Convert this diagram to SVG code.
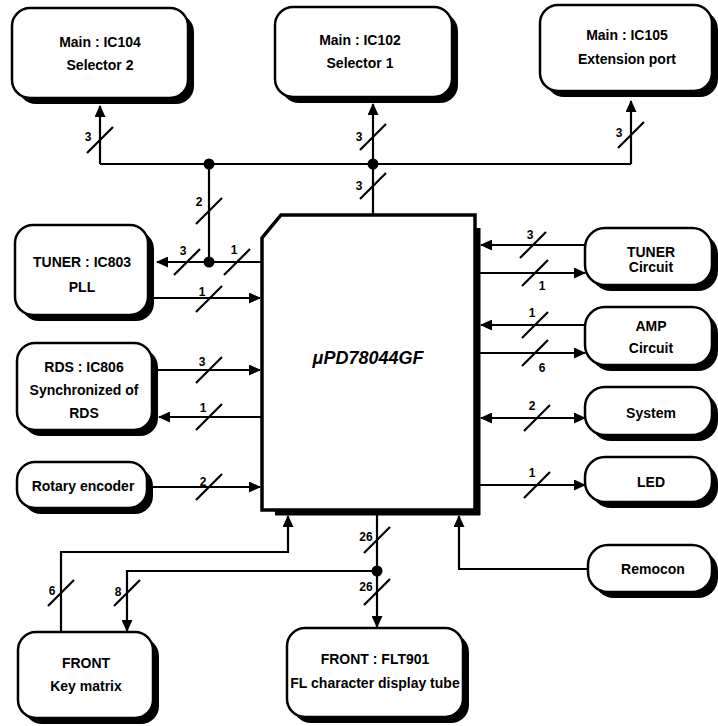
<svg xmlns="http://www.w3.org/2000/svg" width="718" height="726" viewBox="0 0 718 726">
<style>
.box{fill:#fff;stroke:#000;stroke-width:2.5}
.sh{fill:#000}
.t{font-family:"Liberation Sans",Arial,sans-serif;font-weight:bold;font-size:14px;text-anchor:middle;fill:#000}
.n{font-family:"Liberation Sans",Arial,sans-serif;font-weight:bold;font-size:12px;text-anchor:middle;fill:#000}
.c{fill:none;stroke:#000;stroke-width:2.2}
.a{marker-end:url(#ah)}
.s{stroke:#000;stroke-width:2.2}
</style>
<defs>
<marker id="ah" markerUnits="userSpaceOnUse" markerWidth="12" markerHeight="11" refX="11" refY="5.5" orient="auto-start-reverse">
<path d="M0,0 L12,5.5 L0,11 Z" fill="#000"/>
</marker>
</defs>
<rect width="718" height="726" fill="#fff"/>

<g id="chip">
<rect x="475" y="228" width="5.5" height="287" class="sh"/>
<rect x="275" y="510" width="205" height="5.5" class="sh"/>
<path d="M281,215 H475 V510 H262 V238 Z" fill="#fff" stroke="#000" stroke-width="3.5"/>
<text x="368" y="364" class="t" style="font-size:18px;font-style:italic">μPD78044GF</text>
</g>

<g id="ic104">
<rect x="18" y="14" width="176" height="90" rx="18" class="sh"/>
<rect x="12" y="8" width="176" height="90" rx="18" class="box"/>
<text x="100" y="47" class="t">Main : IC104</text>
<text x="100" y="70" class="t">Selector 2</text>
</g>
<g id="ic102">
<rect x="281" y="13" width="177" height="90" rx="18" class="sh"/>
<rect x="275" y="7" width="177" height="90" rx="18" class="box"/>
<text x="360" y="45" class="t">Main : IC102</text>
<text x="360" y="68" class="t">Selector 1</text>
</g>
<g id="ic105">
<rect x="546" y="11" width="172" height="86" rx="18" class="sh"/>
<rect x="540" y="5" width="172" height="86" rx="18" class="box"/>
<text x="627" y="40" class="t">Main : IC105</text>
<text x="627" y="64" class="t">Extension port</text>
</g>

<g id="tuner-ic803">
<rect x="21" y="231" width="133" height="90" rx="18" class="sh"/>
<rect x="15" y="225" width="133" height="90" rx="18" class="box"/>
<text x="82" y="267" class="t">TUNER : IC803</text>
<text x="82" y="292" class="t">PLL</text>
</g>
<g id="rds">
<rect x="23" y="349" width="135" height="87" rx="18" class="sh"/>
<rect x="17" y="343" width="135" height="87" rx="18" class="box"/>
<text x="84" y="372" class="t">RDS : IC806</text>
<text x="84" y="395" class="t">Synchronized of</text>
<text x="84" y="418" class="t">RDS</text>
</g>
<g id="rotary">
<rect x="23" y="468" width="130" height="46" rx="18" class="sh"/>
<rect x="17" y="462" width="130" height="46" rx="18" class="box"/>
<text x="83" y="491" class="t">Rotary encoder</text>
</g>

<g id="tuner-circuit">
<rect x="591" y="234" width="127" height="57" rx="20" class="sh"/>
<rect x="585" y="228" width="127" height="57" rx="20" class="box"/>
<text x="651" y="257" class="t">TUNER</text>
<text x="651" y="272" class="t">Circuit</text>
</g>
<g id="amp">
<rect x="591" y="313" width="127" height="58" rx="20" class="sh"/>
<rect x="585" y="307" width="127" height="58" rx="20" class="box"/>
<text x="651" y="331" class="t">AMP</text>
<text x="651" y="353" class="t">Circuit</text>
</g>
<g id="system">
<rect x="591" y="393" width="127" height="48" rx="20" class="sh"/>
<rect x="585" y="387" width="127" height="48" rx="20" class="box"/>
<text x="651" y="418" class="t">System</text>
</g>
<g id="led">
<rect x="591" y="463" width="127" height="45" rx="20" class="sh"/>
<rect x="585" y="457" width="127" height="45" rx="20" class="box"/>
<text x="651" y="487" class="t">LED</text>
</g>
<g id="remocon">
<rect x="594" y="551" width="124" height="47" rx="20" class="sh"/>
<rect x="588" y="545" width="124" height="47" rx="20" class="box"/>
<text x="653" y="574" class="t">Remocon</text>
</g>

<g id="key-matrix">
<rect x="24" y="638" width="135" height="86" rx="18" class="sh"/>
<rect x="18" y="632" width="135" height="86" rx="18" class="box"/>
<text x="86" y="668" class="t">FRONT</text>
<text x="86" y="691" class="t">Key matrix</text>
</g>
<g id="flt901">
<rect x="293" y="634" width="176" height="89" rx="18" class="sh"/>
<rect x="287" y="628" width="176" height="89" rx="18" class="box"/>
<text x="375" y="664" class="t">FRONT : FLT901</text>
<text x="375" y="688" class="t">FL character display tube</text>
</g>

<g id="connectors">
<path d="M100,164 H631" class="c"/>
<path d="M100,164 V106" class="c a"/>
<path d="M373,215 V104" class="c a"/>
<path d="M631,164 V101" class="c a"/>
<path d="M209,164 V262" class="c"/>
<circle cx="209" cy="164" r="5.5"/>
<circle cx="373" cy="164" r="5.5"/>
<path d="M262,262 H157" class="c a"/>
<circle cx="209" cy="262" r="5.5"/>
<path d="M154,298 H260" class="c a"/>
<path d="M158,370 H260" class="c a"/>
<path d="M262,417 H159" class="c a"/>
<path d="M153,487 H260" class="c a"/>
<path d="M585,245 H481" class="c a"/>
<path d="M480,273 H585" class="c a"/>
<path d="M585,325 H481" class="c a"/>
<path d="M480,353 H585" class="c a"/>
<path d="M481,418 H585" class="c a" style="marker-start:url(#ah)"/>
<path d="M480,485 H585" class="c a"/>
<path d="M61,632 V552 H288 V516" class="c a"/>
<path d="M377,515 V627" class="c a"/>
<path d="M377,571 H127 V631" class="c a"/>
<circle cx="377" cy="571" r="5.5"/>
<path d="M588,569 H459 V516" class="c a"/>
<path d="M87,153 L113,127 M360,150 L386,124 M360,199 L386,173 M618,148 L644,122 M196,224 L222,198 M174,275 L200,249 M224,275 L250,249 M196,312 L222,286 M196,383 L222,357 M196,430 L222,404 M196,500 L222,474 M520,258 L546,232 M522,286 L548,260 M522,338 L548,312 M522,366 L548,340 M524,431 L550,405 M524,498 L550,472 M48,606 L74,580 M114,606 L140,580 M364,553 L390,527 M364,605 L390,579" class="s"/>
<text x="88" y="141" class="n">3</text>
<text x="359" y="141" class="n">3</text>
<text x="359" y="190" class="n">3</text>
<text x="619" y="137" class="n">3</text>
<text x="199" y="206" class="n">2</text>
<text x="183" y="255" class="n">3</text>
<text x="234" y="254" class="n">1</text>
<text x="202" y="296" class="n">1</text>
<text x="202" y="366" class="n">3</text>
<text x="203" y="412" class="n">1</text>
<text x="203" y="486" class="n">2</text>
<text x="530" y="239" class="n">3</text>
<text x="542" y="290" class="n">1</text>
<text x="532" y="317" class="n">1</text>
<text x="542" y="372" class="n">6</text>
<text x="532" y="410" class="n">2</text>
<text x="532" y="477" class="n">1</text>
<text x="52" y="595" class="n">6</text>
<text x="118" y="596" class="n">8</text>
<text x="366" y="541" class="n">26</text>
<text x="366" y="591" class="n">26</text>
</g>
</svg>
